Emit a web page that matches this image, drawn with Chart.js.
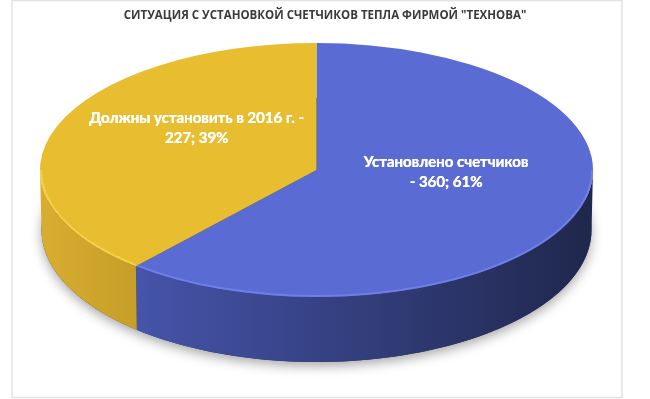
<!DOCTYPE html>
<html>
<head>
<meta charset="utf-8">
<script src="https://cdn.jsdelivr.net/npm/chart.js@4"></script>
<style>
  body { margin: 0; background: #fff; }
  canvas { display: block; }
</style>
</head>
<body>
<canvas id="pie" width="650" height="399"></canvas>
<script>
const titleText = 'СИТУАЦИЯ С УСТАНОВКОЙ СЧЕТЧИКОВ ТЕПЛА ФИРМОЙ "ТЕХНОВА"'
const categories = ['Установлено счетчиков', 'Должны установить в 2016 г.']
const values = [360, 227]
const percents = [61, 39]

const topColors = ['#5a6bd3', '#e8be30']
const sideColors = [['#4654aa', '#1f274c'], ['#d8ae30', '#c69e28']]
const rimColors = ['#6e7fe6', '#f7d04a']

// ellipse of the top face and of the bottom rim (slight perspective)
const geo = { cx: 316.5, cyT: 170, rx: 276.5, ryT: 127, cyB: 230, rxB: 275, ryB: 132 }

// label anchors, in units of the top ellipse radii
const labelLines = [
    ['Установлено счетчиков', '- ' + values[0] + '; ' + percents[0] + '%'],
    ['Должны установить в 2016 г. -', values[1] + '; ' + percents[1] + '%']
]
const labelAnchor = [[0.468, 0.02], [-0.434, -0.33]]

function visibleRange(s, e) {
    // part of [s,e] that lies on the front half (0..PI)
    const out = []
    for (const k of [-2, 0, 2]) {
        const a = Math.max(s, k * Math.PI), b = Math.min(e, k * Math.PI + Math.PI)
        if (b > a) out.push([a, b])
    }
    return out
}

const pie3d = {
    id: 'pie3d',
    beforeDraw(chart) {
        const ctx = chart.ctx
        ctx.save()
        ctx.fillStyle = '#fff'
        ctx.fillRect(0, 0, chart.width, chart.height)
        ctx.strokeStyle = '#e2e2e2'
        ctx.lineWidth = 1.5
        ctx.strokeRect(12, 0.5, 610, 397)
        ctx.restore()
    },
    beforeDatasetsDraw(chart) {
        const ctx = chart.ctx
        const arcs = chart.getDatasetMeta(0).data
        // soft shadow under the pie
        ctx.save()
        ctx.shadowColor = 'rgba(0,0,0,0.35)'
        ctx.shadowBlur = 12
        ctx.shadowOffsetY = 4
        ctx.beginPath()
        ctx.ellipse(geo.cx, geo.cyB, geo.rxB, geo.ryB, 0, 0, Math.PI * 2)
        ctx.fillStyle = '#2a2f55'
        ctx.fill()
        ctx.restore()
        // side walls
        arcs.forEach((a, i) => {
            visibleRange(a.startAngle, a.endAngle).forEach(([s, e]) => {
                const n = 60
                ctx.save()
                ctx.beginPath()
                for (let j = 0; j <= n; j++) {
                    const t = s + (e - s) * j / n
                    const x = geo.cx + geo.rx * Math.cos(t), y = geo.cyT + geo.ryT * Math.sin(t)
                    j ? ctx.lineTo(x, y) : ctx.moveTo(x, y)
                }
                for (let j = n; j >= 0; j--) {
                    const t = s + (e - s) * j / n
                    ctx.lineTo(geo.cx + geo.rxB * Math.cos(t), geo.cyB + geo.ryB * Math.sin(t))
                }
                ctx.closePath()
                const x0 = geo.cx + geo.rx * Math.cos(e), x1 = geo.cx + geo.rx * Math.cos(s)
                const gr = ctx.createLinearGradient(Math.min(x0, x1), 0, Math.max(x0, x1), 0)
                gr.addColorStop(0, sideColors[i][0])
                gr.addColorStop(1, sideColors[i][1])
                ctx.fillStyle = gr
                ctx.fill()
                ctx.restore()
            })
        })
        // squash the library's pie into the top ellipse
        const a0 = arcs[0]
        const R = a0.outerRadius
        ctx.save()
        ctx.translate(geo.cx, geo.cyT)
        ctx.scale(geo.rx / R, geo.ryT / R)
        ctx.translate(-a0.x, -a0.y)
    },
    afterDatasetsDraw(chart) {
        const ctx = chart.ctx
        ctx.restore()
        const arcs = chart.getDatasetMeta(0).data
        // light rim on the front edge of the top face
        arcs.forEach((a, i) => {
            visibleRange(a.startAngle, a.endAngle).forEach(([s, e]) => {
                ctx.save()
                ctx.beginPath()
                ctx.ellipse(geo.cx, geo.cyT, geo.rx - 1, geo.ryT - 1, 0, s, e)
                ctx.strokeStyle = rimColors[i]
                ctx.lineWidth = 2
                ctx.stroke()
                ctx.restore()
            })
        })
        // data labels
        ctx.save()
        ctx.fillStyle = '#fff'
        ctx.font = 'bold 15px Lato'
        ctx.textAlign = 'center'
        ctx.textBaseline = 'middle'
        labelLines.forEach((lines, i) => {
            const x = geo.cx + labelAnchor[i][0] * geo.rx
            const y = geo.cyT + labelAnchor[i][1] * geo.ryT
            lines.forEach((l, k) => {
                ctx.fillText(l, x, y + (k - 0.5) * 20)
                ctx.fillText(l, x + 0.4, y + (k - 0.5) * 20)
            })
        })
        ctx.restore()
    }
}

new Chart(document.getElementById('pie'), {
    type: 'pie',
    data: {
        labels: categories,
        datasets: [{
            data: values,
            backgroundColor: topColors,
            borderWidth: 0
        }]
    },
    options: {
        responsive: false,
        animation: false,
        events: [],
        plugins: {
            legend: { display: false },
            tooltip: { enabled: false },
            title: {
                display: true,
                text: titleText,
                color: '#3a3a3a',
                font: { family: 'Open Sans', size: 11.5, weight: 'bold' },
                padding: { top: 9, bottom: 10 }
            }
        }
    },
    plugins: [pie3d]
})
</script>
</body>
</html>
